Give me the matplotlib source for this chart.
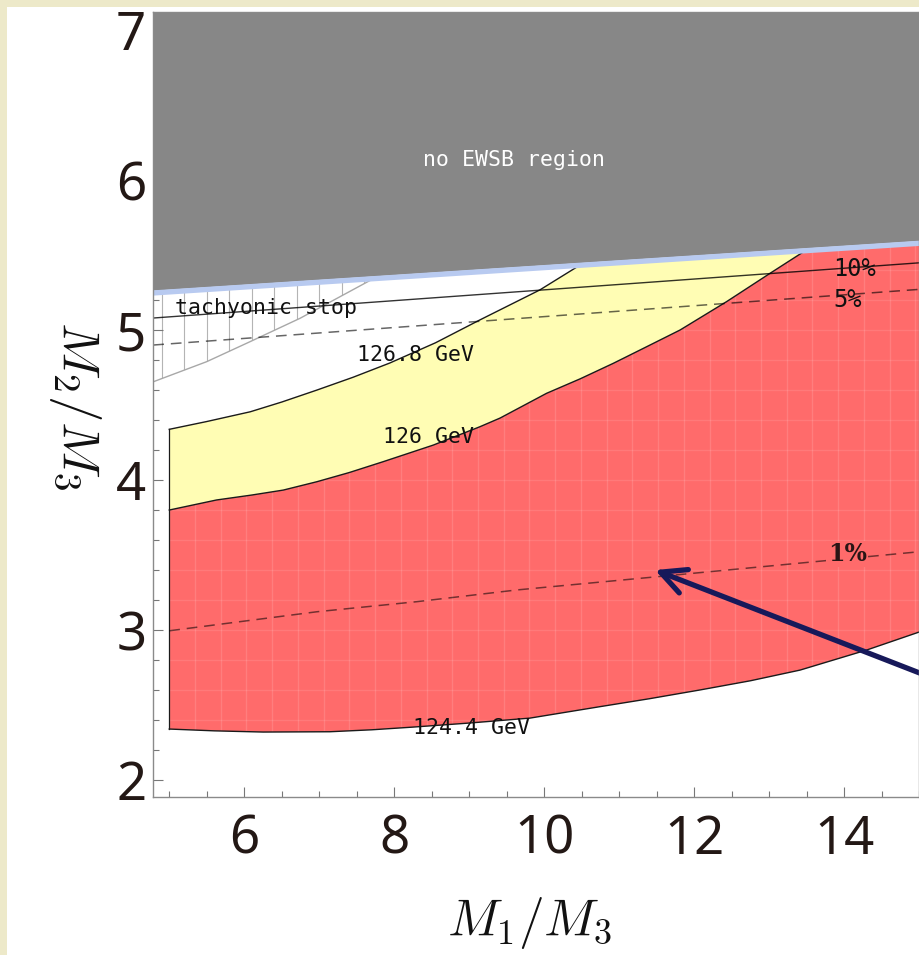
import numpy as np
import matplotlib
matplotlib.use('Agg')
import matplotlib.pyplot as plt
from matplotlib.patches import Polygon, Rectangle
from matplotlib.ticker import MultipleLocator, FixedLocator

plt.rcParams['mathtext.fontset'] = 'cm'

# ---------------- data ----------------
# no-EWSB boundary (lower edge of gray region)
ewsb_x = [4.787, 15.0]
ewsb_y = [5.247, 5.578]

# Higgs-mass contours
h1268_x = [5.0, 5.5, 6.08, 6.5, 6.97, 7.45, 7.94, 8.55, 9.14, 9.94, 10.47]
h1268_y = [4.338, 4.39, 4.455, 4.52, 4.60, 4.685, 4.78, 4.915, 5.067, 5.267, 5.431]

h126_x = [5.0, 5.63, 6.1, 6.52, 6.97, 7.4, 7.85, 8.52, 9.14, 9.41, 10.03, 10.48, 10.92, 11.35,
          11.81, 12.43, 13.01, 13.48]
h126_y = [3.80, 3.867, 3.90, 3.933, 3.989, 4.05, 4.122, 4.233, 4.355, 4.413, 4.578, 4.675,
          4.778, 4.885, 5.0, 5.189, 5.378, 5.529]

h1244_x = [5.0, 5.6, 6.25, 7.14, 7.7, 8.25, 9.0, 9.81, 10.74, 11.4, 12.07, 12.75, 13.41, 14.3, 15.0]
h1244_y = [2.34, 2.328, 2.32, 2.322, 2.335, 2.353, 2.38, 2.413, 2.489, 2.542, 2.60, 2.662, 2.733,
           2.867, 2.987]

# fine-tuning contours
ft10_x = [4.787, 15.0]
ft10_y = [5.08, 5.448]
ft5_x = [4.787, 15.0]
ft5_y = [4.90, 5.271]
ft1_x = [5.0, 6.97, 8.30, 9.63, 11.41, 15.0]
ft1_y = [2.995, 3.122, 3.189, 3.267, 3.351, 3.522]

# tachyonic stop boundary
tach_x = [4.787, 5.499, 6.076, 6.743, 7.276, 7.72]
tach_y = [4.655, 4.789, 4.922, 5.078, 5.222, 5.342]

# arrow (tail, head)
arrow_tail = (16.0, 2.52)
arrow_head = (11.476, 3.40)

xlim = (4.787, 15.0)
ylim = (1.887, 7.12)

xticks_major = [6, 8, 10, 12, 14]
yticks_major = [2, 3, 4, 5, 6, 7]

# ---------------- figure ----------------
W, H = 920, 955
fig = plt.figure(figsize=(W / 100, H / 100), dpi=100, facecolor='#EDE9C9')
fig.add_artist(Rectangle((7 / W, 0), 1, (H - 7) / H, transform=fig.transFigure,
                         facecolor='white', edgecolor='none', zorder=0))

ax = fig.add_axes([153.3 / W, 158 / H, (919.3 - 153.3) / W, (797 - 12) / H])
ax.set_facecolor('white')
ax.set_xlim(*xlim)
ax.set_ylim(*ylim)

RED = '#FF6B6B'
YEL = '#FFFDB4'
GRAY = '#878787'
BLUE = '#B8CAF0'

# red region
red_pts = list(zip(h1244_x, h1244_y)) + [(ewsb_x[1], ewsb_y[1])] + list(zip(h126_x, h126_y))[::-1]
red_poly = Polygon(red_pts, closed=True, facecolor=RED, edgecolor='none', zorder=1)
ax.add_patch(red_poly)

# faint mesh inside red region
for xv in np.arange(5.0, 15.0, 0.343):
    ln = ax.axvline(xv, color='white', lw=1.0, alpha=0.13, zorder=1.1)
    ln.set_clip_path(red_poly)
for yv in np.arange(2.2, 5.6, 0.2):
    ln = ax.axhline(yv, color='white', lw=1.0, alpha=0.10, zorder=1.1)
    ln.set_clip_path(red_poly)

# yellow region
yel_pts = list(zip(h1268_x, h1268_y)) + list(zip(h126_x, h126_y))[::-1]
ax.add_patch(Polygon(yel_pts, closed=True, facecolor=YEL, edgecolor='none', zorder=1))

# tachyonic stop hatch
tach_pts = list(zip(tach_x, tach_y)) + [(ewsb_x[0], ewsb_y[0])]
tach_poly = Polygon(tach_pts, closed=True, facecolor='none', edgecolor='none', zorder=1)
ax.add_patch(tach_poly)
for xv in np.arange(4.9, 7.8, 0.3):
    ln, = ax.plot([xv, xv], [4.5, 5.5], color='#B4B4B4', lw=0.8, zorder=1.2)
    ln.set_clip_path(tach_poly)
ax.plot(tach_x, tach_y, color='#A8A8A8', lw=1.0, zorder=1.3)

# contour boundaries
for cx, cy in [(h1268_x, h1268_y), (h126_x, h126_y), (h1244_x, h1244_y)]:
    ax.plot(cx, cy, color='#1a1a1a', lw=1.0, zorder=3)
ax.plot([h126_x[0], h126_x[0]], [h1244_y[0], h1268_y[0]], color='#1a1a1a', lw=0.9, zorder=3)

# fine tuning lines
ax.plot(ft10_x, ft10_y, color='black', lw=1.0, alpha=0.8, zorder=3)
ax.plot(ft5_x, ft5_y, color='black', lw=1.1, alpha=0.6, dashes=(7, 4.5), zorder=3)
ax.plot(ft1_x, ft1_y, color='black', lw=1.1, alpha=0.55, dashes=(7, 4.5), zorder=3)

# gray no-EWSB region + light blue edge
gray_pts = [(ewsb_x[0], ewsb_y[0] + 0.015), (ewsb_x[1], ewsb_y[1] + 0.015),
            (ewsb_x[1], ylim[1]), (ewsb_x[0], ylim[1])]
ax.add_patch(Polygon(gray_pts, closed=True, facecolor=GRAY, edgecolor='none', zorder=4))
ax.plot(ewsb_x, ewsb_y, color=BLUE, lw=3.8, solid_capstyle='butt', zorder=4.5)

# texts
mono = dict(family='DejaVu Sans Mono', fontsize=15.5, color='#111111', zorder=6)
ax.text(9.596, 6.133, 'no EWSB region', ha='center', va='center',
        **{**mono, 'color': 'white'})
ax.text(5.08, 5.147, 'tachyonic stop', ha='left', va='center', **mono)
ax.text(7.503, 4.833, '126.8 GeV', ha='left', va='center', **mono)
ax.text(7.853, 4.289, '126 GeV', ha='left', va='center', **mono)
ax.text(8.249, 2.347, '124.4 GeV', ha='left', va='center', **mono)
ax.text(13.85, 5.41, '10%', ha='left', va='center', **{**mono, 'fontsize': 17})
ax.text(13.85, 5.20, '5%', ha='left', va='center', **{**mono, 'fontsize': 17})
ax.text(13.78, 3.507, '1%', ha='left', va='center', family='DejaVu Serif',
        fontweight='bold', fontsize=17, color='#2a1515', zorder=6,
        bbox=dict(facecolor=RED, edgecolor='none', pad=1.0))

# arrow
ax.annotate('', xy=arrow_head, xytext=arrow_tail, annotation_clip=False,
            arrowprops=dict(arrowstyle='->,head_length=0.9,head_width=0.45',
                            color='#17195A', lw=3.8, mutation_scale=20,
                            shrinkA=0, shrinkB=0), zorder=7)

# axes styling
for side in ['left', 'bottom', 'top', 'right']:
    ax.spines[side].set_color('#8a8a8a')
    ax.spines[side].set_linewidth(1.0)
    ax.spines[side].set_zorder(8)

ax.xaxis.set_major_locator(FixedLocator(xticks_major))
ax.xaxis.set_minor_locator(MultipleLocator(0.5))
ax.yaxis.set_major_locator(FixedLocator(yticks_major))
ax.yaxis.set_minor_locator(MultipleLocator(0.2))
ax.tick_params(which='both', direction='in', top=True, right=False, color='#777777', width=0.8)
ax.tick_params(which='major', length=7.5)
ax.tick_params(which='minor', length=4.5)
ax.tick_params(axis='x', which='major', pad=12, labelsize=38, labelcolor='#231815')
ax.tick_params(axis='y', which='major', pad=5, labelsize=38, labelcolor='#231815')
for lab in ax.get_xticklabels() + ax.get_yticklabels():
    lab.set_family('Noto Sans')

fig.text(530 / W, 19 / H, r'$M_1/M_3$', ha='center', va='baseline', fontsize=37, color='#111111')
fig.text(75 / W, 1 - 406 / H, r'$M_2/M_3$', ha='center', va='center', rotation=-90,
         fontsize=38, color='#111111')

fig.savefig('out.png', dpi=100, facecolor=fig.get_facecolor())
